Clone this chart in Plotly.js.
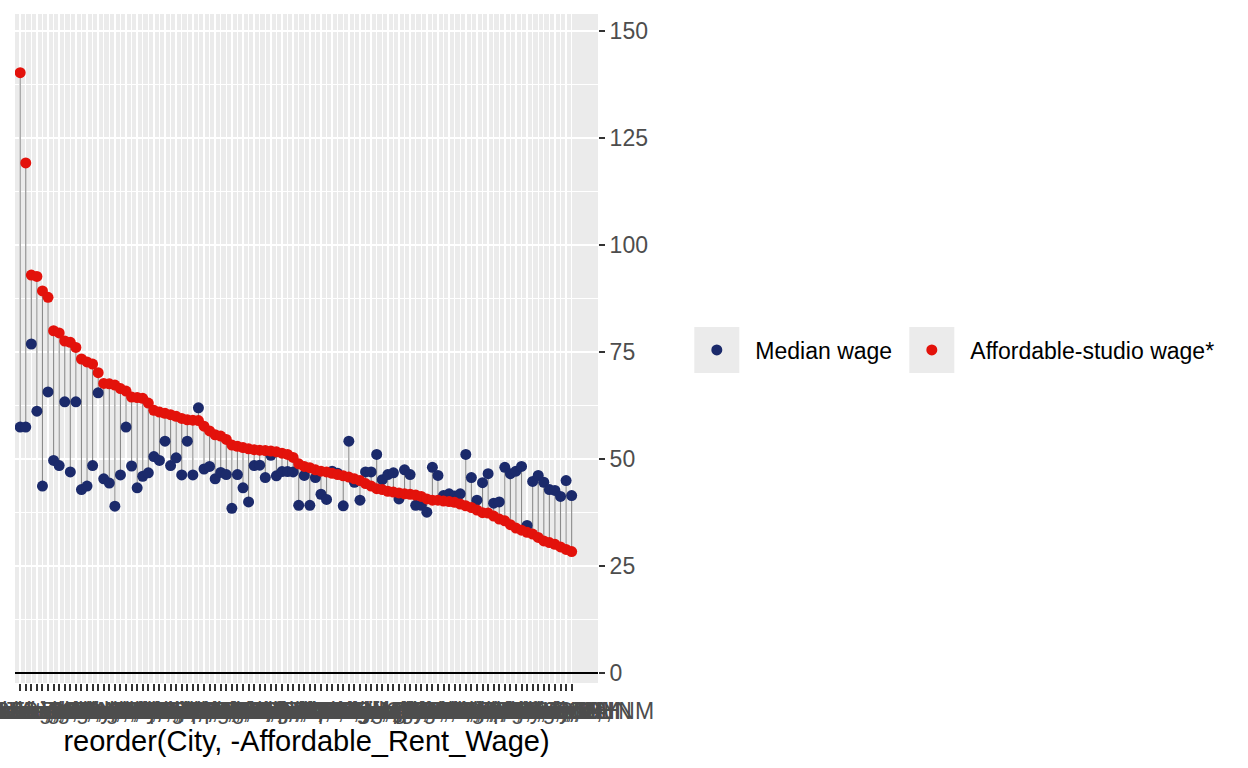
<!DOCTYPE html>
<html>
<head>
<meta charset="utf-8">
<script src="https://cdn.plot.ly/plotly-3.0.1.min.js"></script>
<style>
  html, body { margin: 0; padding: 0; background: #ffffff; }
  #chart { width: 1248px; height: 768px; }
</style>
</head>
<body>
<div id="chart"></div>
<script>
// ---- Data ----
const cities = [
  "San Francisco, CA", "San Jose, CA", "Boston, MA", "Oakland, CA", "Irvine, CA",
  "Seattle, WA", "Los Angeles, CA", "New York, NY", "Washington, DC", "San Diego, CA",
  "Fremont, CA", "Honolulu, HI", "Anaheim, CA", "Long Beach, CA", "Santa Ana, CA",
  "Miami, FL", "Denver, CO", "Newark, NJ", "Jersey City, NJ", "Arlington, VA",
  "Sacramento, CA", "Portland, OR", "Chula Vista, CA", "Riverside, CA", "Austin, TX",
  "Minneapolis, MN", "Aurora, CO", "Chicago, IL", "Atlanta, GA", "Nashville, TN",
  "Baltimore, MD", "Philadelphia, PA", "Plano, TX", "Stockton, CA", "Orlando, FL",
  "Tampa, FL", "Charlotte, NC", "Raleigh, NC", "Henderson, NV", "Las Vegas, NV",
  "Phoenix, AZ", "Scottsdale, AZ", "Dallas, TX", "Fort Worth, TX", "Houston, TX",
  "St. Paul, MN", "Durham, NC", "Bakersfield, CA", "Fresno, CA", "Reno, NV",
  "Chandler, AZ", "Gilbert, AZ", "Mesa, AZ", "Colorado Springs, CO", "Salt Lake City, UT",
  "Boise, ID", "Spokane, WA", "Richmond, VA", "Virginia Beach, VA", "Anchorage, AK",
  "Jacksonville, FL", "St. Petersburg, FL", "Pittsburgh, PA", "Madison, WI", "Lincoln, NE",
  "Omaha, NE", "Kansas City, MO", "Columbus, OH", "Indianapolis, IN", "Louisville, KY",
  "Lexington, KY", "Milwaukee, WI", "Chesapeake, VA", "Greensboro, NC", "Winston-Salem, NC",
  "San Antonio, TX", "Arlington, TX", "Corpus Christi, TX", "El Paso, TX", "Laredo, TX",
  "Lubbock, TX", "Garland, TX", "Irving, TX", "Tucson, AZ", "Oklahoma City, OK",
  "Tulsa, OK", "Wichita, KS", "St. Louis, MO", "Memphis, TN", "New Orleans, LA",
  "Baton Rouge, LA", "Birmingham, AL", "Cincinnati, OH", "Cleveland, OH", "Toledo, OH",
  "Detroit, MI", "Fort Wayne, IN", "Buffalo, NY", "Akron, OH", "Las Cruces, NM"
];

const medianWage = [
  57.4, 57.4, 76.8, 61.1, 43.6, 65.6, 49.6, 48.4, 63.3, 46.9,
  63.3, 42.8, 43.6, 48.4, 65.4, 45.3, 44.3, 38.9, 46.2, 57.4,
  48.3, 43.2, 45.9, 46.7, 50.5, 49.6, 54.1, 48.4, 50.2, 46.2,
  54.1, 46.2, 61.9, 47.6, 48.2, 45.3, 46.8, 46.3, 38.4, 46.3,
  43.2, 39.9, 48.4, 48.5, 45.6, 50.8, 46.0, 47.0, 47.0, 46.9,
  39.1, 46.1, 39.1, 45.6, 41.7, 40.5, 47.1, 46.6, 39.0, 54.1,
  44.5, 40.3, 46.9, 46.9, 51.0, 45.1, 46.3, 46.7, 40.6, 47.4,
  46.3, 39.1, 39.1, 37.5, 48.0, 46.1, 41.4, 41.8, 41.3, 41.8,
  51.0, 45.6, 40.3, 44.4, 46.5, 39.6, 39.9, 48.0, 46.5, 47.1,
  48.2, 34.4, 44.7, 46.1, 44.5, 42.8, 42.6, 41.2, 44.9, 41.4
];

const affordableStudioWage = [
  140.2, 119.1, 92.9, 92.6, 89.2, 87.7, 79.9, 79.4, 77.5, 77.2,
  76.0, 73.3, 72.6, 72.1, 70.1, 67.6, 67.5, 67.2, 66.4, 65.8,
  64.4, 64.3, 64.1, 63.0, 61.3, 60.9, 60.6, 60.3, 59.9, 59.4,
  59.1, 59.0, 58.9, 57.6, 56.5, 55.6, 55.3, 54.5, 53.2, 52.9,
  52.6, 52.3, 52.1, 52.0, 51.9, 51.8, 51.6, 51.3, 51.0, 50.3,
  48.8, 48.2, 47.9, 47.4, 47.1, 46.9, 46.6, 46.3, 46.0, 45.7,
  45.3, 44.9, 44.2, 43.6, 43.0, 42.8, 42.4, 42.2, 42.0, 41.8,
  41.7, 41.5, 41.2, 40.6, 40.3, 40.3, 40.1, 40.0, 39.8, 39.4,
  39.0, 38.6, 38.0, 37.4, 37.3, 36.6, 35.9, 35.5, 34.6, 33.8,
  33.3, 32.8, 32.4, 31.6, 30.8, 30.4, 30.0, 29.4, 28.8, 28.3
];

const yTickValues = [0, 25, 50, 75, 100, 125, 150];
const seriesNames = ["Median wage", "Affordable-studio wage*"];

// ---- Build traces from the arrays ----
const segX = [], segY = [];
cities.forEach((c, i) => {
  segX.push(c, c, null);
  segY.push(medianWage[i], affordableStudioWage[i], null);
});

const FONT = "Liberation Sans, Arial, sans-serif";
const BLUE = "#1b2a6b";
const RED = "#e3120b";

const traces = [
  {
    type: "scatter", mode: "lines", x: segX, y: segY,
    line: { color: "#8a8a8a", width: 1.1 },
    hoverinfo: "skip", showlegend: false, connectgaps: false
  },
  {
    type: "scatter", mode: "markers", name: seriesNames[0],
    x: cities, y: medianWage,
    marker: { color: BLUE, size: 11 },
    legendwidth: 133
  },
  {
    type: "scatter", mode: "markers", name: seriesNames[1],
    x: cities, y: affordableStudioWage,
    marker: { color: RED, size: 11 }
  }
];

// plot area: x 14.7..597.7, y 14..683 (pixels)
const L = 14.7, R = 597.7, T = 14, B = 683;
const W = 1248, H = 768;
const px2paperX = px => (px - L) / (R - L);
const px2paperY = py => (B - py) / (B - T);

const layout = {
  width: W, height: H,
  margin: { l: L, r: W - R, t: T, b: H - B, pad: 0 },
  paper_bgcolor: "#ffffff",
  plot_bgcolor: "#ebebeb",
  font: { family: FONT, color: "#4d4d4d" },
  showlegend: true,
  xaxis: {
    type: "category",
    categoryorder: "array", categoryarray: cities,
    range: [-0.93, 103.73],
    tickmode: "array", tickvals: cities, ticktext: cities,
    tickangle: 0,
    ticks: "outside", ticklen: 7, tickwidth: 2, tickcolor: "#333333",
    tickfont: { family: FONT, size: 23, color: "#4d4d4d" },
    showgrid: true, gridcolor: "#ffffff", gridwidth: 1.4,
    zeroline: false, showline: false, automargin: false,
    title: { text: "reorder(City, -Affordable_Rent_Wage)", font: { family: FONT, size: 29, color: "#000000" }, standoff: 8 }
  },
  yaxis: {
    side: "right",
    range: [-2.4, 153.9],
    tickmode: "array", tickvals: yTickValues,
    ticks: "outside", ticklen: 6, tickwidth: 2, tickcolor: "#333333",
    tickfont: { family: FONT, size: 23, color: "#4d4d4d" },
    showgrid: true, gridcolor: "#ffffff", gridwidth: 2.2,
    minor: { dtick: 12.5, tick0: 12.5, showgrid: true, gridcolor: "#ffffff", gridwidth: 1.1, ticks: "" },
    zeroline: true, zerolinecolor: "#000000", zerolinewidth: 1.6,
    showline: false, automargin: false
  },
  legend: {
    orientation: "h",
    xref: "paper", yref: "paper",
    x: px2paperX(678), xanchor: "left",
    y: px2paperY(350), yanchor: "middle",
    font: { family: FONT, size: 23, color: "#000000" },
    bgcolor: "rgba(0,0,0,0)", borderwidth: 0,
    itemwidth: 67
  },
  shapes: [
    { type: "rect", xref: "paper", yref: "paper", layer: "below",
      x0: px2paperX(694), x1: px2paperX(739), y0: px2paperY(373), y1: px2paperY(327),
      fillcolor: "#ebebeb", line: { width: 0 } },
    { type: "rect", xref: "paper", yref: "paper", layer: "below",
      x0: px2paperX(909), x1: px2paperX(954), y0: px2paperY(373), y1: px2paperY(327),
      fillcolor: "#ebebeb", line: { width: 0 } }
  ]
};

Plotly.newPlot("chart", traces, layout, { displayModeBar: false, staticPlot: true });
</script>
</body>
</html>
